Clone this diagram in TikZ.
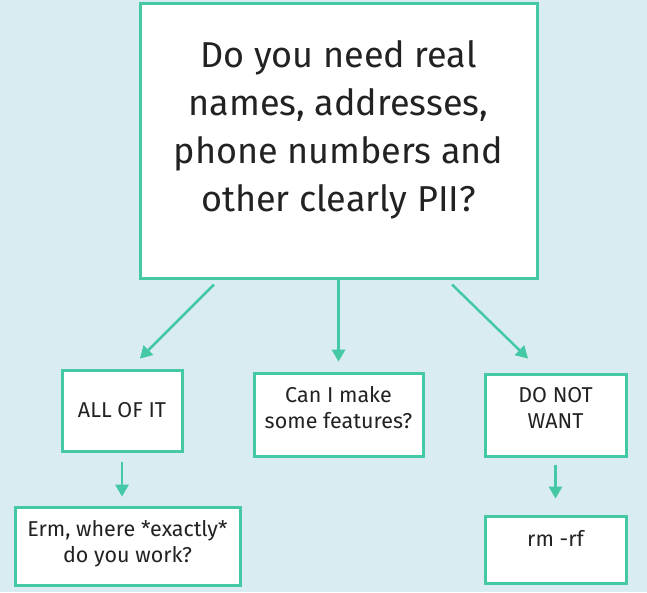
\documentclass[tikz,border=0pt]{standalone}
\usepackage{fontspec}
\setmainfont{Fira Sans}
\usepackage{tikz}
\usetikzlibrary{arrows.meta,positioning}

\definecolor{piibg}{HTML}{D8ECF2}
\definecolor{piiteal}{HTML}{45C9A4}
\definecolor{piitext}{HTML}{222222}

\begin{document}
\begin{tikzpicture}[x=1pt, y=-1pt, auto, align=center,
    box/.style={rectangle, draw=piiteal, line width=3pt, fill=white,
      text=piitext, inner sep=0pt},
    question/.style={box, minimum width=397pt, minimum height=275pt,
      font=\fontsize{36}{48}\selectfont},
    answer/.style={box, font=\fontsize{21.5}{26}\selectfont},
    link/.style={draw=piiteal, line width=2.5pt,
      -{Triangle[length=12pt,width=14pt,line width=0pt]}}
    ]

    \useasboundingbox[fill=piibg] (0,0) rectangle (647,592);

    \node[question, text depth=30pt] (Q)  at (338.5,140.5) {Do you need real\\ names, addresses,\\ phone numbers and\\ other clearly PII?};
    \node[answer, minimum width=120pt, minimum height=81pt] (All)  at (122,410.5)   {ALL OF IT};
    \node[answer, minimum width=169pt, minimum height=83pt, text depth=14pt] (Feat) at (338.5,414.5) {Can I make\\ some features?};
    \node[answer, minimum width=141pt, minimum height=82pt, text depth=14pt] (Want) at (555.5,415)   {DO NOT\\ WANT};
    \node[answer, minimum width=225pt, minimum height=78pt, text depth=10pt] (Erm)  at (127.5,546)   {Erm, where *exactly*\\ do you work?};
    \node[answer, minimum width=141pt, minimum height=67pt, text depth=22pt] (Rm)   at (555.5,549.5) {rm -rf};

    \draw[link] ([xshift=-124.5pt,yshift=-5pt]Q.south) -- ([xshift=18pt,yshift=10pt]All.north);
    \draw[link] (Q.south) -- ([yshift=10pt]Feat.north);
    \draw[link] ([xshift=113.5pt,yshift=-5pt]Q.south) -- ([xshift=-27.5pt,yshift=14pt]Want.north);
    \draw[link] ([yshift=-9pt]All.south) -- ([yshift=9pt]All.south |- Erm.north);
    \draw[link] ([yshift=-7pt]Want.south) -- ([yshift=16pt]Rm.north);
  \end{tikzpicture}
\end{document}
